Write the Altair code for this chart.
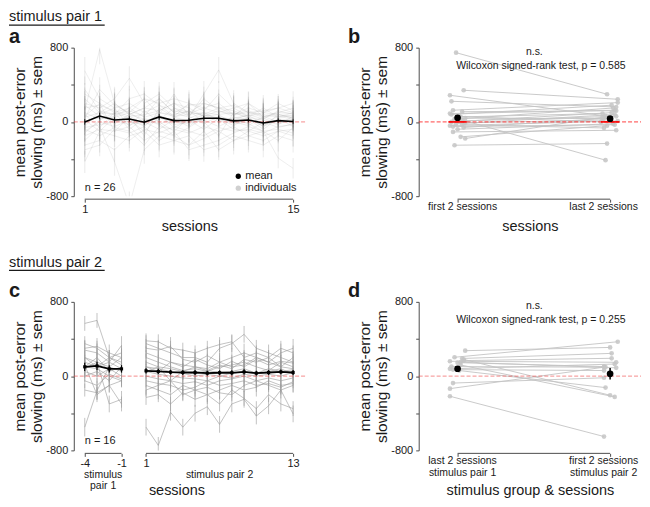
import altair as alt
import pandas as pd

FONT = "Liberation Sans"
TXT = "#1a1a1a"
AX = "#4d4d4d"

# ---------------- panel a : stimulus pair 1, sessions 1-15 ----------------
a_sessions = list(range(1, 16))
a_mean = [0, 64, 20, 32, -3, 54, 14, 18, 39, 39, 11, 21, -11, 14, 4]
a_mean_sem = [30, 35, 30, 28, 26, 30, 26, 26, 28, 30, 24, 24, 24, 24, 24]
a_indiv = [
    [550, 250, 150, 200, 100, 180, 120, 90, 150, 200, 80, 120, 60, 100, 90],
    [120, 780, 200, 80, 150, 120, 200, 100, 80, 150, 120, 60, 100, 80, 60],
    [-430, -100, -150, -200, -80, -120, -50, -100, -150, -60, -100, -80, -120, -50, -30],
    [-200, -50, -430, -900, -300, -150, -200, -250, -180, -100, -200, -150, -100, -80, -120],
    [200, 150, 250, 470, 200, 300, 150, 100, 200, 150, 180, 100, 120, 150, 100],
    [50, 100, 80, 120, 60, 250, 100, 50, 300, 560, 200, 100, 50, 80, 40],
    [-100, 0, -50, 20, -100, 50, -30, 0, 20, -50, 30, -20, -100, -390, -500],
    [300, 200, 100, 150, 250, 200, 250, 200, 150, 100, 150, 200, 50, 100, 150],
    [0, 50, 20, -30, 10, 60, 0, -20, 30, 50, -10, 20, -30, 10, 0],
    [80, -60, 100, 40, -50, 100, 60, 80, 100, 20, 40, 70, -20, 60, 30],
    [-150, -80, -100, -50, -200, -100, -150, -250, -100, -300, -200, -100, -150, -100, -80],
    [150, 180, 120, 60, 80, 120, 200, 150, 60, 120, 80, 150, 100, 200, 120],
    [-50, 120, -20, 80, 30, -30, 50, 10, 80, 40, -40, 50, 20, -30, 60],
    [100, 30, 60, 150, 50, 100, 80, 120, 60, 80, 100, 40, -50, 30, 20],
    [-80, -150, -60, -100, -250, -50, -80, -120, -50, -100, -50, -150, -200, -100, -150],
    [250, 100, 200, 80, 150, 250, 100, 180, 200, 150, 80, 100, 80, 50, 70],
    [20, -100, 50, 100, 0, -80, 30, -50, 80, 0, 50, 30, -80, 40, -50],
    [-250, -200, -300, -150, -100, -250, -200, -150, -300, -250, -150, -200, -250, -150, -200],
    [180, 60, 40, 0, -30, 20, 150, 60, -20, 60, 20, 80, 30, 120, 80],
    [-20, 80, 150, -50, 120, 0, -100, 40, 100, 80, -20, 0, 40, -20, 30],
    [60, 200, -100, 50, -150, 150, 50, 120, 0, -150, 100, 50, -50, 80, 40],
    [-120, 20, 100, -80, 40, -20, -150, -60, 40, 30, -80, -100, 0, -60, -20],
    [350, 120, 80, 250, 300, 180, 60, 200, 120, 300, 150, 60, 150, 50, 100],
    [-300, -250, -80, -120, -50, -200, -100, -300, -250, -200, -120, -50, -100, -200, -60],
    [40, 350, 180, 100, 250, 80, 300, 60, 250, 120, 60, 200, 100, 150, 200],
    [-60, -30, 0, 60, -20, 80, -60, 20, -80, 40, 0, -40, 60, 0, -10],
]
a_indiv_sem = [150, 160, 120, 150, 130, 140, 110, 120, 80, 90, 110, 100, 90,
               100, 110, 120, 90, 130, 100, 90, 110, 90, 140, 120, 130, 80]

# ---------------- panel b : first 2 vs last 2 sessions ----------------
b_categories = ["first 2 sessions", "last 2 sessions"]
b_first = [746, 341, 287, 222, 126, 90, 54, 40, 30, 20, 10, 0, -10, -20, -30, -40,
           -60, -79, -108, -161, -179, -251, 80, 60, 110, -50]
b_last = [298, 244, 65, 161, 208, 126, 90, 36, 150, -412, 60, 100, 20, 80, -65, 10,
          40, -20, -90, -40, 50, -233, 180, 0, 120, -30]
b_jit_first = [-0.01, 0.04, -0.05, -0.04, -0.03, -0.05, 0.02, 0.05, -0.02, 0.03, 0.01, -0.04, 0.05,
               -0.01, 0.03, -0.05, 0.04, 0.0, -0.03, 0.02, 0.05, -0.02, -0.04, 0.01, 0.03, -0.03]
b_jit_last = [-0.02, 0.05, -0.03, 0.04, 0.05, 0.03, -0.05, -0.04, 0.02, -0.03, 0.04, 0.01, -0.05,
              0.03, -0.04, 0.05, -0.01, 0.02, 0.04, -0.02, -0.05, -0.02, 0.01, -0.06, 0.04, 0.03]
b_mean = [45, 35]
b_mean_sem = [30, 22]

# ---------------- panel c : stimulus pair 2 ----------------
c_pre_sessions = [-4, -3, -2, -1]
c_post_sessions = list(range(1, 14))
c_pre = [
    [568, 600, 200, 150], [300, 320, 250, 200], [280, 250, 150, 330], [200, 150, 100, 50],
    [150, 100, 200, 120], [100, 200, 50, 100], [50, 0, 80, 0], [0, 50, -50, 100],
    [-50, -100, 20, -30], [-150, -180, -100, -50], [-550, -157, 100, 200], [120, -200, -100, -300],
    [80, 150, -300, -250], [200, 100, 150, 80], [350, 300, 200, 250], [100, 80, 0, -50],
]
c_post = [
    [380, 370, 300, 280, 250, 300, 340, 370, 200, 250, 200, 300, 250],
    [350, 300, 250, 200, 200, 150, 300, 350, 450, 300, 250, 200, 150],
    [300, 280, 320, 180, 150, 220, 150, 200, 250, 200, 150, 250, 300],
    [250, 200, 150, 120, 100, 80, 150, 100, 120, 200, 150, 100, 200],
    [200, 150, 100, 60, 80, 50, 100, 120, 150, 100, 60, 150, 100],
    [150, 100, 80, 50, 20, 60, 40, 50, 80, 30, 80, 50, 70],
    [100, 80, 50, 30, 0, 20, 0, 30, 50, 20, 50, 80, 20],
    [50, 20, 0, -20, -30, -50, 0, -20, 20, 0, 20, 0, 40],
    [0, -30, -50, -80, -60, -100, -50, -30, 0, -50, -20, -50, -20],
    [-50, -80, -100, -150, -120, -50, -100, -80, -50, -100, -80, -120, -60],
    [-100, -150, -200, -100, -150, -200, -150, -100, -150, -120, -50, -100, -80],
    [-230, -200, -300, -180, -250, -200, -300, -150, -240, -350, -200, -300, -350],
    [-550, -746, -390, -550, -400, -330, -520, -300, -250, -430, -320, -150, -407],
    [100, 50, 150, 100, 180, 120, 80, 160, 100, 180, 120, 160, 140],
    [50, 100, -50, 50, 100, 60, 120, 80, 180, 150, 200, 100, 80],
    [-150, -100, -50, -200, -150, -120, -180, -200, -100, -50, -100, -150, -100],
]
c_sem = [80, 90, 100, 70, 80, 90, 70, 60, 80, 70, 100, 80, 90, 70, 80, 70]
c_mean_pre = [100, 110, 78, 78]
c_mean_post = [57, 50, 43, 39, 39, 32, 36, 36, 46, 32, 39, 46, 39]
c_mean_sem_pre = [45, 45, 40, 40]
c_mean_sem_post = [28, 28, 26, 26, 26, 26, 26, 26, 28, 26, 26, 26, 26]

# ---------------- panel d : last 2 of pair 1 vs first 2 of pair 2 ----------------
d_categories = ["last 2 sessions\nstimulus pair 1", "first 2 sessions\nstimulus pair 2"]
d_left = [274, 203, 190, 167, 160, 150, 145, 103, 78, 70, 60, -75, -135, -217, 180, 120]
d_right = [309, 370, 245, 192, 149, 89, 103, 96, 130, 60, -124, -18, 96, -651, -206, -224]
d_jit_left = [0.05, -0.02, 0.03, 0.04, -0.05, 0.02, 0.0, -0.04, -0.05, -0.03, 0.01, -0.03,
              -0.05, -0.05, 0.04, 0.02]
d_jit_right = [0.0, 0.05, 0.01, 0.01, 0.04, 0.04, -0.04, -0.03, 0.03, -0.04, -0.03, -0.04,
               -0.04, -0.04, 0.0, 0.03]
d_mean = [79, 25]
d_mean_sem = [22, 62]

stat_b = ["n.s.", "Wilcoxon signed-rank test, p = 0.585"]
stat_d = ["n.s.", "Wilcoxon signed-rank test, p = 0.255"]

# ---------------- geometry / styles ----------------
W_L, W_R, H = 232, 223, 149
Y_TITLE = ["mean post-error", "slowing (ms) \u00b1 sem"]
ysc = alt.Scale(domain=[-800, 800], nice=False, zero=False)


def y_axis():
    return alt.Axis(values=[-800, -400, 0, 400, 800],
                    labelExpr="abs(datum.value) == 400 ? '' : toString(datum.value)",
                    title=Y_TITLE, titleFont=FONT, titleFontSize=15.5, titleFontWeight="normal",
                    titleColor=TXT, titlePadding=1, titleLineHeight=17,
                    labelFont=FONT, labelFontSize=11, labelColor=TXT, labelPadding=3,
                    tickSize=3, tickColor=AX, domainColor=AX, grid=False)


def x_axis(values, title, labels=True, titleX=None, titleY=27):
    kw = dict(values=values, domain=False, offset=3, tickSize=3, tickColor=AX, grid=False,
              labels=labels, labelFont=FONT, labelFontSize=11, labelColor=TXT, labelPadding=1,
              labelFlush=False, labelExpr="toString(datum.value)",
              title=title, titleFont=FONT, titleFontSize=14.5, titleFontWeight="normal",
              titleColor=TXT, titleY=titleY, titleBaseline="middle")
    if titleX is not None:
        kw["titleX"] = titleX
    return alt.Axis(**kw)


def YY(field):
    return alt.Y(field, scale=ysc, axis=y_axis())


def txt(text, x, y, size=11, align="left", baseline="middle", weight="normal", color=TXT):
    return alt.Chart(pd.DataFrame({"t": [text]})).mark_text(
        font=FONT, fontSize=size, align=align, baseline=baseline, fontWeight=weight, color=color
    ).encode(text="t:N", x=alt.value(x), y=alt.value(y))


def hline(x1, x2, y, color=TXT, width=1.2):
    return alt.Chart(pd.DataFrame({"k": [0]})).mark_rule(color=color, strokeWidth=width).encode(
        x=alt.value(x1), x2=alt.value(x2), y=alt.value(y))


def zero_line(width, color, opacity):
    return alt.Chart(pd.DataFrame({"v": [0]})).mark_rule(
        color=color, strokeDash=[4, 2], strokeWidth=1, opacity=opacity
    ).encode(y=YY("v:Q"), x=alt.value(0), x2=alt.value(width))


# ---------------- panel a ----------------
rows = []
for i, vals in enumerate(a_indiv):
    for s, v in zip(a_sessions, vals):
        rows.append({"subj": i, "session": s, "v": v,
                     "lo": v - a_indiv_sem[i], "hi": v + a_indiv_sem[i]})
df_a = pd.DataFrame(rows)
df_am = pd.DataFrame({"session": a_sessions, "v": a_mean,
                      "lo": [m - e for m, e in zip(a_mean, a_mean_sem)],
                      "hi": [m + e for m, e in zip(a_mean, a_mean_sem)]})
xsa = alt.Scale(domain=[1 - 11 / 14.93, 15 + 12 / 14.93], nice=False, zero=False)


def XA(field):
    return alt.X(field, scale=xsa, axis=x_axis([1, 15], "sessions"))


a_err = alt.Chart(df_a).mark_rule(color="#777777", opacity=0.12, strokeWidth=1.2, clip=True).encode(
    x=XA("session:Q"), y=YY("lo:Q"), y2="hi:Q")
a_lines = alt.Chart(df_a).mark_line(color="#999999", opacity=0.17, strokeWidth=1, clip=True).encode(
    x=XA("session:Q"), y=YY("v:Q"), detail="subj:N")
a_merr = alt.Chart(df_am).mark_rule(color="black", strokeWidth=0.8).encode(
    x=XA("session:Q"), y=YY("lo:Q"), y2="hi:Q")
a_mline = alt.Chart(df_am).mark_line(color="black", strokeWidth=1.6).encode(
    x=XA("session:Q"), y=YY("v:Q"))
a_axisline = alt.Chart(pd.DataFrame({"x1": [1], "x2": [15]})).mark_rule(color=AX, strokeWidth=1).encode(
    x=XA("x1:Q"), x2="x2:Q", y=alt.value(H + 3))
a_leg_pts = alt.Chart(pd.DataFrame({"lab": ["mean", "individuals"], "c": ["black", "#d0d0d0"],
                                    "yy": [129, 141]})).mark_circle(size=28, opacity=1).encode(
    x=alt.value(165), y=alt.Y("yy:Q", scale=None), color=alt.Color("c:N", scale=None))
a_leg_txt = alt.Chart(pd.DataFrame({"lab": ["mean", "individuals"], "yy": [129, 141]})).mark_text(
    font=FONT, fontSize=11, align="left", baseline="middle", color=TXT).encode(
    x=alt.value(172), y=alt.Y("yy:Q", scale=None), text="lab:N")

panel_a = alt.layer(
    a_err, a_lines, zero_line(W_L, "#f04040", 0.6), a_merr, a_mline, a_axisline,
    a_leg_pts, a_leg_txt,
    txt("n = 26", 11, 141),
    txt("a", -65, -4.5, size=20, weight="bold", baseline="alphabetic"),
    txt("stimulus pair 1", -65, -38, size=14.5, baseline="top"),
    hline(-65, 31, -22.5),
).properties(width=W_L, height=H)


# ---------------- panels b and d (paired) ----------------
def paired_panel(left, right, jl, jr, means, sems, cats, stats, letter, label_y, zero_color,
                 zero_opacity, bold_zero, x_title, title_y):
    xs = alt.Scale(domain=[-39 / 153, 1 + 31 / 153], nice=False, zero=False)

    def XP(field):
        return alt.X(field, scale=xs, axis=x_axis([0, 1], x_title, labels=False, titleY=title_y))

    rows = []
    for i, (l, r) in enumerate(zip(left, right)):
        rows.append({"subj": i, "xp": 0 + jl[i], "v": l})
        rows.append({"subj": i, "xp": 1 + jr[i], "v": r})
    df = pd.DataFrame(rows)
    dfm = pd.DataFrame({"xp": [0, 1], "v": means,
                        "lo": [m - e for m, e in zip(means, sems)],
                        "hi": [m + e for m, e in zip(means, sems)]})
    lines = alt.Chart(df).mark_line(color="#c4c4c4", strokeWidth=1, opacity=0.9).encode(
        x=XP("xp:Q"), y=YY("v:Q"), detail="subj:N")
    pts = alt.Chart(df).mark_circle(color="#c4c4c4", size=22, opacity=0.85).encode(
        x=XP("xp:Q"), y=YY("v:Q"))
    merr = alt.Chart(dfm).mark_rule(color="black", strokeWidth=1.5).encode(
        x=XP("xp:Q"), y=YY("lo:Q"), y2="hi:Q")
    mpts = alt.Chart(dfm).mark_circle(color="black", size=45, opacity=1).encode(
        x=XP("xp:Q"), y=YY("v:Q"))
    axl = alt.Chart(pd.DataFrame({"x1": [0], "x2": [1]})).mark_rule(color=AX, strokeWidth=1).encode(
        x=XP("x1:Q"), x2="x2:Q", y=alt.value(H + 3))
    jmax = max(abs(j) for j in jl + jr)
    layers = [lines, pts, zero_line(W_R, zero_color, zero_opacity)]
    if bold_zero:
        segs = pd.DataFrame({"x1": [0 - jmax, 1 - jmax], "x2": [0 + jmax, 1 + jmax], "v": [0, 0]})
        layers.append(alt.Chart(segs).mark_rule(color="#ff0000", strokeWidth=1.6).encode(
            x=XP("x1:Q"), x2="x2:Q", y=YY("v:Q")))
    layers += [merr, mpts, axl]
    lab0 = alt.Chart(pd.DataFrame({"xp": [0], "t": [cats[0]]})).mark_text(
        font=FONT, fontSize=10.5, align="center", baseline="top", color=TXT, dx=5,
        lineBreak="\n", lineHeight=11.6).encode(
        x=XP("xp:Q"), y=alt.value(label_y), text="t:N")
    lab1 = alt.Chart(pd.DataFrame({"xp": [1], "t": [cats[1]]})).mark_text(
        font=FONT, fontSize=10.5, align="center", baseline="top", color=TXT, dx=-6.5,
        lineBreak="\n", lineHeight=11.6).encode(
        x=XP("xp:Q"), y=alt.value(label_y), text="t:N")
    layers += [lab0, lab1,
               txt(stats[0], 116, 4.5, size=10.5, align="center"),
               txt(stats[1], 122.5, 18.5, size=10.5, align="center"),
               txt(letter, -71, -4.5, size=20, weight="bold", baseline="alphabetic")]
    return alt.layer(*layers).properties(width=W_R, height=H)


panel_b = paired_panel(b_first, b_last, b_jit_first, b_jit_last, b_mean, b_mean_sem,
                       b_categories, stat_b, "b", 155, "#ff2020", 0.85, True, "sessions", 27)
panel_d = paired_panel(d_left, d_right, d_jit_left, d_jit_right, d_mean, d_mean_sem,
                       d_categories, stat_d, "d", 155, "#f04040", 0.6, False,
                       "stimulus group & sessions", 37)

# ---------------- panel c ----------------
rows = []
for i in range(len(c_pre)):
    for s, v in zip(c_pre_sessions, c_pre[i]):
        rows.append({"seg": f"{i}-pre", "session": s, "v": v, "lo": v - c_sem[i], "hi": v + c_sem[i]})
    for s, v in zip(c_post_sessions, c_post[i]):
        rows.append({"seg": f"{i}-post", "session": s, "v": v, "lo": v - c_sem[i], "hi": v + c_sem[i]})
df_c = pd.DataFrame(rows)
mrows = []
for s, v, e in zip(c_pre_sessions, c_mean_pre, c_mean_sem_pre):
    mrows.append({"seg": "pre", "session": s, "v": v, "lo": v - e, "hi": v + e})
for s, v, e in zip(c_post_sessions, c_mean_post, c_mean_sem_post):
    mrows.append({"seg": "post", "session": s, "v": v, "lo": v - e, "hi": v + e})
df_cm = pd.DataFrame(mrows)
xsc = alt.Scale(domain=[-4 - 11 / 12.3, 13 + 12 / 12.3], nice=False, zero=False)


def XC(field):
    return alt.X(field, scale=xsc, axis=x_axis([-4, -1, 1, 13], "sessions", titleX=103, titleY=37))


c_err = alt.Chart(df_c).mark_rule(color="#9a9a9a", opacity=0.6, strokeWidth=1, clip=True).encode(
    x=XC("session:Q"), y=YY("lo:Q"), y2="hi:Q")
c_lines = alt.Chart(df_c).mark_line(color="#9a9a9a", opacity=0.6, strokeWidth=1, clip=True).encode(
    x=XC("session:Q"), y=YY("v:Q"), detail="seg:N")
c_merr = alt.Chart(df_cm).mark_rule(color="black", strokeWidth=1.2).encode(
    x=XC("session:Q"), y=YY("lo:Q"), y2="hi:Q")
c_mline = alt.Chart(df_cm).mark_line(color="black", strokeWidth=1.8).encode(
    x=XC("session:Q"), y=YY("v:Q"), detail="seg:N")
c_mpts = alt.Chart(df_cm).mark_square(color="black", size=10, opacity=1).encode(
    x=XC("session:Q"), y=YY("v:Q"))
c_axisline = alt.Chart(pd.DataFrame({"x1": [-4, 1], "x2": [-1, 13]})).mark_rule(
    color=AX, strokeWidth=1).encode(x=XC("x1:Q"), x2="x2:Q", y=alt.value(H + 3))
c_groups = alt.Chart(pd.DataFrame({"xc": [-2.5, 7], "t": ["stimulus\npair 1", "stimulus pair 2"]})).mark_text(
    font=FONT, fontSize=10.5, align="center", baseline="top", color=TXT, lineBreak="\n",
    lineHeight=11.5).encode(x=XC("xc:Q"), y=alt.value(168.5), text="t:N")

panel_c = alt.layer(
    c_err, c_lines, zero_line(W_L, "#f04040", 0.6), c_merr, c_mline, c_mpts, c_axisline, c_groups,
    txt("n = 16", 11, 140),
    txt("c", -65, -4.5, size=20, weight="bold", baseline="alphabetic"),
    txt("stimulus pair 2", -65, -46, size=14.5, baseline="top"),
    hline(-65, 31, -31.5),
).properties(width=W_L, height=H)

chart = alt.concat(panel_a, panel_b, panel_c, panel_d, columns=2,
                   spacing={"row": 106, "column": 114}, bounds="flush").properties(padding=0)
chart = chart.configure(font=FONT).configure_view(stroke=None)
chart.save("out.html", embed_options={"renderer": "svg", "actions": False})
